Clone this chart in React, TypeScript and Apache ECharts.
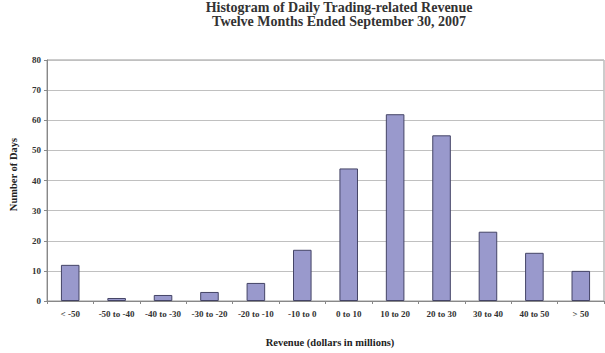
import React, { useEffect, useRef } from "react";
import * as echarts from "echarts";

const categories = [
  "< -50", "-50 to -40", "-40 to -30", "-30 to -20", "-20 to -10", "-10 to 0",
  "0 to 10", "10 to 20", "20 to 30", "30 to 40", "40 to 50", "> 50",
];
const days = [12, 1, 2, 3, 6, 17, 44, 62, 55, 23, 16, 10];
const titleLines = [
  "Histogram of Daily Trading-related Revenue",
  "Twelve Months Ended September 30, 2007",
];
const yAxisName = "Number of Days";
const xAxisName = "Revenue (dollars in millions)";

const FONT = "Liberation Serif";

export default function App() {
  const ref = useRef<HTMLDivElement>(null);
  useEffect(() => {
    if (!ref.current) return;
    const chart = echarts.init(ref.current, null, { renderer: "svg" });
    chart.setOption({
      animation: false,
      backgroundColor: "#ffffff",
      title: {
        text: titleLines.join("\n"),
        left: 339,
        top: 0,
        padding: 0,
        textAlign: "center",
        textStyle: {
          fontFamily: FONT,
          fontWeight: "bold",
          fontSize: 14,
          lineHeight: 14.5,
          color: "#333333",
        },
      },
      grid: {
        left: 41,
        right: 1,
        top: 60,
        bottom: 47,
        show: true,
        borderColor: "#999999",
        borderWidth: 1,
        containLabel: false,
      },
      xAxis: {
        type: "category",
        data: categories,
        name: xAxisName,
        nameLocation: "middle",
        nameGap: 36,
        nameTextStyle: {
          fontFamily: FONT,
          fontWeight: "bold",
          fontSize: 10.5,
          color: "#222222",
          padding: [0, 0, 0, 9],
        },
        axisLine: { show: true, lineStyle: { color: "#888888", width: 1 } },
        axisTick: { show: true, alignWithLabel: false, length: 3, lineStyle: { color: "#888888" } },
        axisLabel: {
          interval: 0,
          margin: 8,
          fontFamily: FONT,
          fontWeight: "bold",
          fontSize: 9,
          color: "#333333",
        },
      },
      yAxis: {
        type: "value",
        min: 0,
        max: 80,
        interval: 10,
        name: yAxisName,
        nameLocation: "middle",
        nameGap: 28,
        nameRotate: 90,
        nameTextStyle: {
          fontFamily: FONT,
          fontWeight: "bold",
          fontSize: 10.5,
          color: "#222222",
          padding: [0, 0, 0, 12],
        },
        axisLine: { show: true, lineStyle: { color: "#888888", width: 1 } },
        axisTick: { show: true, length: 3, lineStyle: { color: "#888888" } },
        axisLabel: {
          margin: 6,
          fontFamily: FONT,
          fontWeight: "bold",
          fontSize: 9,
          color: "#333333",
        },
        splitLine: { show: true, lineStyle: { color: "#c0c0c0", width: 1 } },
      },
      series: [
        {
          type: "bar",
          data: days,
          barWidth: "40%",
          itemStyle: {
            color: "#9999cc",
            borderColor: "#444466",
            borderWidth: 1,
          },
        },
      ],
    });
    return () => chart.dispose();
  }, []);
  return (
    <div
      ref={ref}
      style={{ position: "absolute", left: 0, top: 0, width: 605, height: 353 }}
    />
  );
}
